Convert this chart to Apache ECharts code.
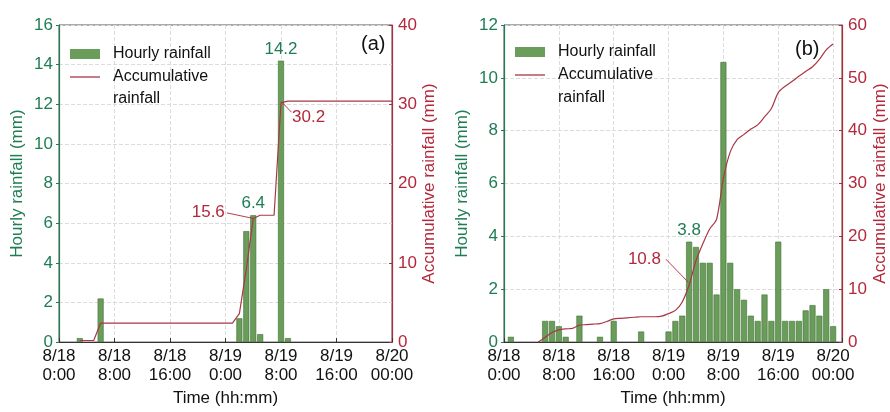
<!DOCTYPE html>
<html>
<head>
<meta charset="UTF-8">
<title>Rainfall</title>
<script src="https://cdn.jsdelivr.net/npm/echarts@6/dist/echarts.min.js"></script>
<style>
  html, body { margin: 0; padding: 0; background: #fff; }
  #chart { width: 890px; height: 412px; }
</style>
</head>
<body>
<div id="chart"></div>
<script>
// x axis: hours since 8/18 0:00
var tickLabels = ['8/18\n0:00', '8/18\n8:00', '8/18\n16:00', '8/19\n0:00', '8/19\n8:00', '8/19\n16:00', '8/20\n00:00'];

// panel (a)
var hoursA = [3, 6, 26, 27, 28, 29, 32, 33];
var hourlyA = [0.2, 2.2, 1.2, 5.6, 6.4, 0.4, 14.2, 0.2];
var labeledA = [28, 32];
var accHoursA = [3, 5, 6, 25, 26, 27, 28, 29, 31, 32, 33, 48];
var accA = [0.2, 0.2, 2.4, 2.4, 3.6, 9.2, 15.6, 16.0, 16.0, 30.2, 30.4, 30.4];

// panel (b)
var hoursB = [1, 6, 7, 8, 9, 11, 14, 16, 20, 24, 25, 26, 27, 28, 29, 30, 31, 32, 33, 34, 35, 36,
              37, 38, 39, 40, 41, 42, 43, 44, 45, 46, 47, 48];
var hourlyB = [0.2, 0.8, 0.8, 0.6, 0.2, 1.0, 0.2, 0.8, 0.4, 0.4, 0.8, 1.0, 3.8, 3.6, 3.0, 3.0, 1.8, 10.6, 3.0, 2.0, 1.6, 1.0,
               0.8, 1.8, 0.8, 3.8, 0.8, 0.8, 0.8, 1.2, 1.4, 1.0, 2.0, 0.6];
var labeledB = [27];
var accHoursB = [5, 6, 7, 8, 9, 10, 11, 12, 13, 14, 15, 16, 17, 18, 19, 20, 21, 22, 23, 24, 25, 26,
                 27, 28, 29, 30, 31, 32, 33, 34, 35, 36, 37, 38, 39, 40, 41, 42, 43, 44, 45, 46, 47, 48];
var accB = [0, 0.9, 1.8, 2.3, 2.5, 2.6, 3.2, 3.3, 3.4, 3.5, 3.9, 4.4, 4.5, 4.6, 4.7, 4.8, 4.8, 4.8, 4.9, 5.4, 6.0, 7.6,
            10.8, 15.4, 18.6, 21.4, 23.2, 31.0, 36.0, 38.3, 39.3, 40.3, 41.1, 42.6, 44.2, 47.2, 48.4, 49.3, 50.3, 51.2, 52.1, 53.5, 55.3, 56.4];

// callouts on the accumulative curves: text anchor, leader start, leader end (hours, mm)
var calloutA = [
  { text: '15.6', at: [23.9, 16.4], side: 'left', from: [24.2, 16.3], to: [28, 15.6] },
  { text: '30.2', at: [33.6, 28.3], side: 'right', from: [33.5, 29.0], to: [32.1, 30.3] }
];
var calloutB = [
  { text: '10.8', at: [22.9, 15.6], side: 'left', from: [23.6, 15.7], to: [26.9, 11.3] }
];

var GREEN = '#1f7d54';
var RED = '#b3283b';
var LINE_RED = '#a83845';
var FONT = '"Liberation Sans", Arial, sans-serif';

function xAxis(gi, max) {
  return {
    type: 'value', gridIndex: gi, min: 0, max: max, interval: 8,
    axisLine: { lineStyle: { color: '#333' } },
    axisTick: { inside: true, length: 4, lineStyle: { color: '#333' } },
    axisLabel: {
      color: '#111', fontSize: 17, lineHeight: 19, margin: 5,
      formatter: function (v) { return v % 8 === 0 ? tickLabels[v / 8] : ''; }
    },
    splitLine: { lineStyle: { type: 'dashed', color: '#dcdcdc' } },
    name: 'Time (hh:mm)', nameLocation: 'middle', nameGap: 45,
    nameTextStyle: { color: '#111', fontSize: 17 }
  };
}

function yLeft(gi, max) {
  return {
    type: 'value', gridIndex: gi, position: 'left', min: 0, max: max, interval: 2,
    axisLine: { show: true, lineStyle: { color: GREEN, width: 1.2 } },
    axisTick: { show: true, inside: false, length: 3, lineStyle: { color: GREEN } },
    axisLabel: { color: GREEN, fontSize: 17, margin: 6 },
    splitLine: { lineStyle: { type: 'dashed', color: '#dcdcdc' } },
    name: 'Hourly rainfall (mm)', nameLocation: 'middle', nameGap: 33, nameRotate: 90,
    nameTextStyle: { color: GREEN, fontSize: 17 }
  };
}

function yRight(gi, max, gap) {
  return {
    type: 'value', gridIndex: gi, position: 'right', min: 0, max: max, interval: 10,
    axisLine: { show: true, lineStyle: { color: RED, width: 1.2 } },
    axisTick: { show: true, inside: true, length: 3, lineStyle: { color: RED } },
    axisLabel: { color: RED, fontSize: 17, margin: 6 },
    splitLine: { show: false },
    name: 'Accumulative rainfall (mm)', nameLocation: 'middle', nameGap: gap, nameRotate: 90,
    nameTextStyle: { color: RED, fontSize: 17 }
  };
}

function barSeries(xi, yi, hours, vals, labeled) {
  return {
    type: 'bar', name: 'Hourly rainfall', xAxisIndex: xi, yAxisIndex: yi, barWidth: 6,
    itemStyle: { color: '#6a9d5a', borderColor: '#416f38', borderWidth: 0.6 },
    label: { position: 'top', color: GREEN, fontSize: 17, distance: 3 },
    data: hours.map(function (h, i) {
      return { value: [h, vals[i]], label: { show: labeled.indexOf(h) >= 0 } };
    })
  };
}

function accSeries(xi, yi, hours, vals, smooth) {
  return {
    type: 'line', name: 'Accumulative rainfall', xAxisIndex: xi, yAxisIndex: yi,
    symbol: 'none', smooth: smooth, z: 3,
    lineStyle: { color: LINE_RED, width: 1.2 }, itemStyle: { color: LINE_RED },
    data: hours.map(function (h, i) { return [h, vals[i]]; })
  };
}

function calloutSeries(xi, yi, list) {
  var out = [{
    type: 'scatter', xAxisIndex: xi, yAxisIndex: yi, symbolSize: 0, silent: true, z: 4,
    itemStyle: { opacity: 1 },
    data: list.map(function (c) {
      return { value: c.at, label: { show: true, formatter: c.text, position: c.side, distance: 0,
        color: RED, fontSize: 17 } };
    })
  }];
  list.forEach(function (c) {
    out.push({
      type: 'line', xAxisIndex: xi, yAxisIndex: yi, symbol: 'none', silent: true, z: 4,
      lineStyle: { color: RED, width: 0.9 }, data: [c.from, c.to]
    });
  });
  return out;
}

function legend(left, top) {
  return {
    orient: 'vertical', left: left, top: top, itemWidth: 30, itemHeight: 10, itemGap: 5,
    symbolKeepAspect: true,
    data: [
      { name: 'Hourly rainfall', icon: 'rect', itemStyle: { borderWidth: 0 } },
      { name: 'Accumulative rainfall', icon: 'path://M0,0L30,0L30,1.3L0,1.3Z', itemStyle: { color: LINE_RED } }
    ],
    formatter: function (n) { return n === 'Accumulative rainfall' ? 'Accumulative' : n; },
    textStyle: { fontSize: 16, lineHeight: 18, color: '#111', padding: [0, 0, 0, 8] }
  };
}

var chart = echarts.init(document.getElementById('chart'));
chart.setOption({
  animation: false,
  textStyle: { fontFamily: FONT },
  grid: [
    { left: 59, top: 25, width: 333, height: 322, show: true, borderColor: '#555', borderWidth: 1 },
    { left: 504, top: 25, width: 339, height: 322, show: true, borderColor: '#555', borderWidth: 1 }
  ],
  xAxis: [xAxis(0, 48), xAxis(1, 49.3)],
  yAxis: [yLeft(0, 16), yRight(0, 40, 26), yLeft(1, 12), yRight(1, 60, 30)],
  legend: [legend(65, 40), legend(510, 38)],
  title: [
    { text: 'rainfall', left: 113, top: 90, padding: 0, textStyle: { fontSize: 16, lineHeight: 18, fontWeight: 'normal', color: '#111' } },
    { text: 'rainfall', left: 558, top: 89, padding: 0, textStyle: { fontSize: 16, lineHeight: 18, fontWeight: 'normal', color: '#111' } },
    { text: '(a)', left: 361, top: 34, padding: 0, textStyle: { fontSize: 20, fontWeight: 'normal', color: '#111' } },
    { text: '(b)', left: 795, top: 39, padding: 0, textStyle: { fontSize: 20, fontWeight: 'normal', color: '#111' } }
  ],
  series: [
    barSeries(0, 0, hoursA, hourlyA, labeledA),
    accSeries(0, 1, accHoursA, accA, false),
    barSeries(1, 2, hoursB, hourlyB, labeledB),
    accSeries(1, 3, accHoursB, accB, 0.3)
  ].concat(calloutSeries(0, 1, calloutA), calloutSeries(1, 3, calloutB))
});
</script>
</body>
</html>
